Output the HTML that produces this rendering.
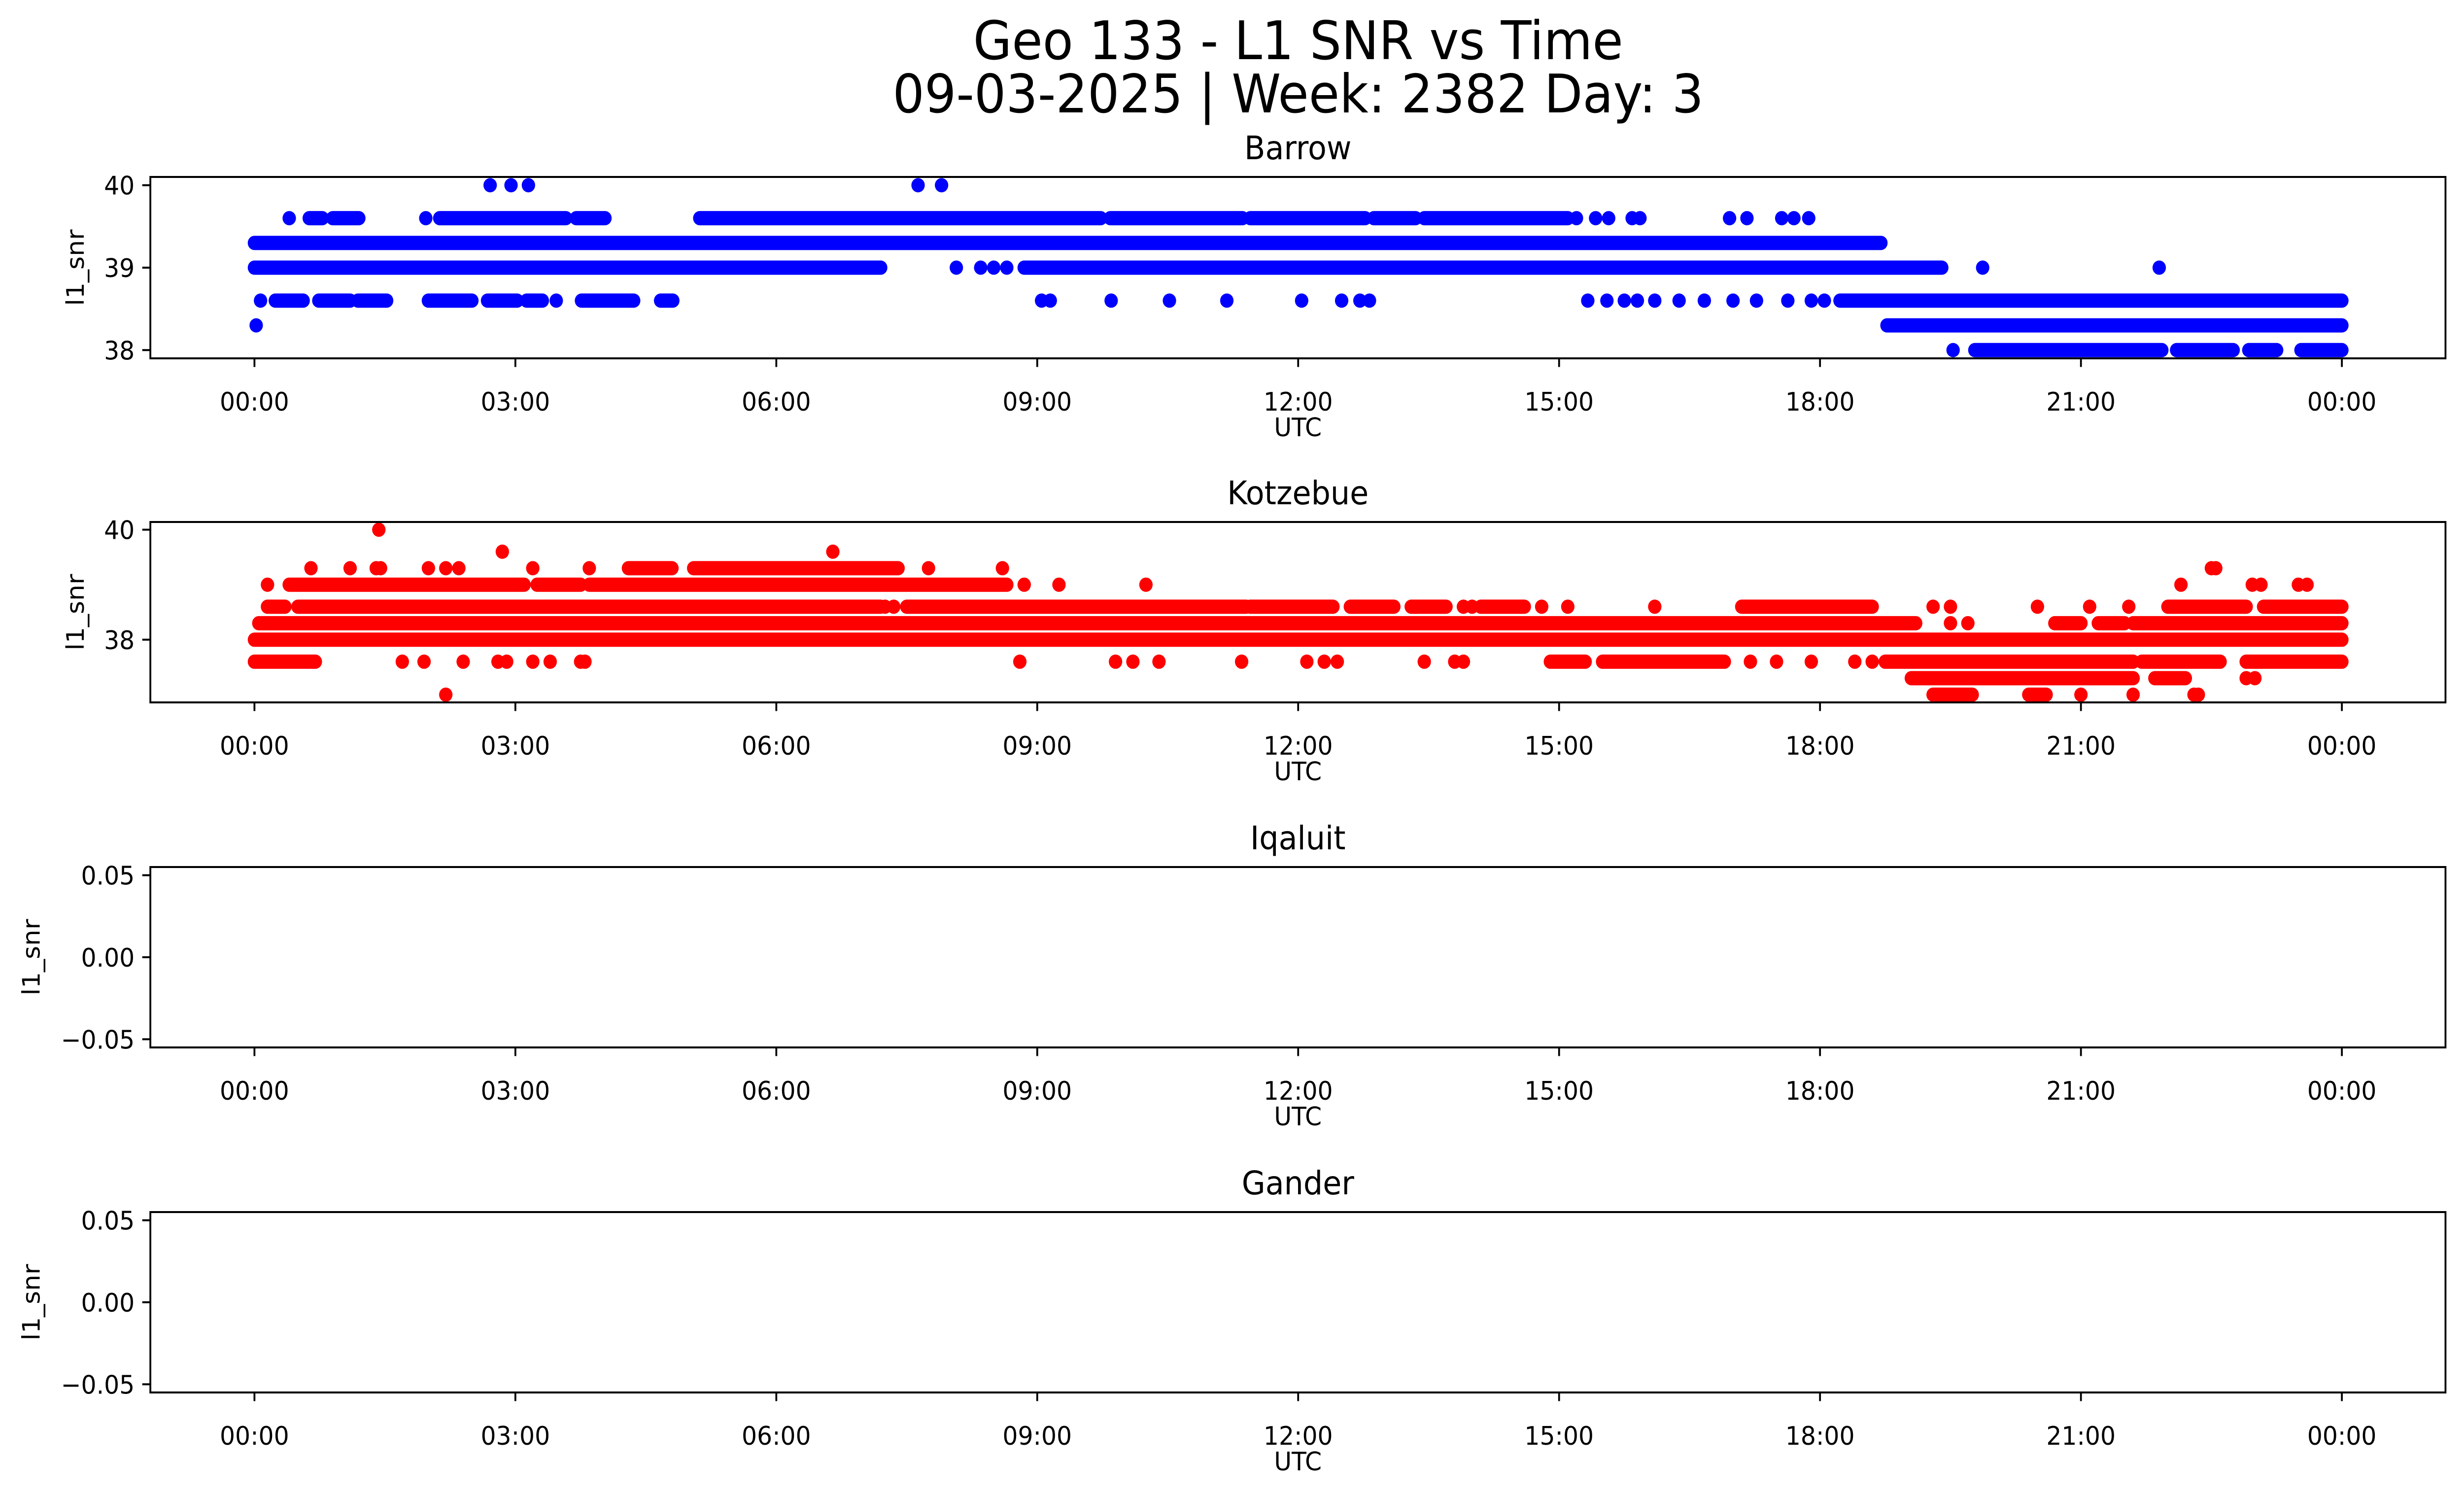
<!DOCTYPE html>
<html><head><meta charset="utf-8"><style>
html,body{margin:0;padding:0;background:#fff;overflow:hidden;width:100%;height:100%;}
svg{display:block;width:100vw;height:100vh;font-family:"DejaVu Sans","Liberation Sans",sans-serif;}
</style></head><body>
<svg id="fig" viewBox="0 0 5326 3033" preserveAspectRatio="none" xmlns="http://www.w3.org/2000/svg">
<rect width="5326" height="3033" fill="#fff"/>
<text x="2806" y="120" font-size="108" text-anchor="middle">Geo 133 - L1 SNR vs Time</text>
<text x="2806" y="228" font-size="108" text-anchor="middle">09-03-2025 | Week: 2382 Day: 3</text>
</svg>
<script>
const xTickHours = [0,3,6,9,12,15,18,21,24];
const xTickLabels = ["00:00","03:00","06:00","09:00","12:00","15:00","18:00","21:00","00:00"];
const stationNames = ["Barrow","Kotzebue","Iqaluit","Gander"];

const barrowTicks = [38,39,40];
const barrowSegments = [
[39.3,0,18.7],[39.0,0,7.2],[39.0,8.85,19.4],
[39.6,0.63,0.78],[39.6,0.9,1.2],[39.6,2.13,3.58],[39.6,3.7,4.03],[39.6,5.12,9.73],[39.6,9.84,11.36],[39.6,11.45,12.77],[39.6,12.87,13.35],[39.6,13.45,15.1],
[38.6,0.24,0.56],[38.6,0.74,1.1],[38.6,1.19,1.52],[38.6,2.0,2.5],[38.6,2.68,3.02],[38.6,3.13,3.31],[38.6,3.76,4.36],[38.6,4.67,4.81],[38.6,18.23,24.0],
[38.3,18.77,24.0],
[38.0,19.78,21.93],[38.0,22.1,22.75],[38.0,22.93,23.25],[38.0,23.53,24.0]
];
const barrowPoints = [
[0.02,38.3],[0.07,38.6],[8.07,39.0],[8.35,39.0],[8.5,39.0],[8.65,39.0],
[0.4,39.6],[1.97,39.6],[15.2,39.6],[15.42,39.6],[15.57,39.6],[15.84,39.6],[15.93,39.6],[16.96,39.6],[17.16,39.6],[17.56,39.6],[17.7,39.6],[17.87,39.6],
[2.71,40],[2.95,40],[3.15,40],[7.63,40],[7.9,40],
[3.47,38.6],[9.05,38.6],[9.15,38.6],[9.85,38.6],[10.52,38.6],[11.18,38.6],[12.04,38.6],[12.5,38.6],[12.71,38.6],[12.82,38.6],
[15.33,38.6],[15.55,38.6],[15.75,38.6],[15.9,38.6],[16.1,38.6],[16.38,38.6],[16.67,38.6],[17.0,38.6],[17.27,38.6],[17.63,38.6],[17.9,38.6],[18.05,38.6],
[19.53,38.0],[19.87,39.0],[21.9,39.0]
];

const kotzTicks = [38,40];
const kotzSegments = [
[38.0,0,24],
[38.3,0.05,19.1],[38.3,20.7,21.0],[38.3,21.2,21.5],[38.3,21.6,24],
[38.6,0.15,0.35],[38.6,0.5,7.2],[38.6,7.5,11.4],[38.6,11.45,12.4],[38.6,12.6,13.1],[38.6,13.3,13.7],[38.6,14.1,14.6],[38.6,17.1,18.6],[38.6,22.0,22.9],[38.6,23.1,24],
[39.0,0.4,3.1],[39.0,3.25,3.75],[39.0,3.85,8.65],
[39.3,4.3,4.8],[39.3,5.05,7.4],
[37.6,0,0.7],[37.6,14.9,15.3],[37.6,15.5,16.9],[37.6,18.75,21.6],[37.6,21.7,22.6],[37.6,22.9,24],
[37.3,19.05,21.6],[37.3,21.85,22.2],
[37.0,19.3,19.75],[37.0,20.4,20.6]
];
const kotzPoints = [
[7.25,38.6],[7.35,38.6],[13.9,38.6],[14.0,38.6],[14.8,38.6],[15.1,38.6],[16.1,38.6],[19.3,38.6],[19.5,38.6],[20.5,38.6],[21.1,38.6],[21.55,38.6],
[19.5,38.3],[19.7,38.3],
[0.15,39.0],[8.85,39.0],[9.25,39.0],[10.25,39.0],[22.15,39.0],[22.97,39.0],[23.07,39.0],[23.5,39.0],[23.6,39.0],
[0.65,39.3],[1.1,39.3],[1.4,39.3],[1.45,39.3],[2.0,39.3],[2.2,39.3],[2.35,39.3],[3.2,39.3],[3.85,39.3],[7.75,39.3],[8.6,39.3],[22.5,39.3],[22.55,39.3],
[2.85,39.6],[6.65,39.6],[1.43,40],
[1.7,37.6],[1.95,37.6],[2.4,37.6],[2.8,37.6],[2.9,37.6],[3.2,37.6],[3.4,37.6],[3.75,37.6],[3.8,37.6],[8.8,37.6],[9.9,37.6],[10.1,37.6],[10.4,37.6],[11.35,37.6],[12.1,37.6],[12.3,37.6],[12.45,37.6],[13.45,37.6],[13.8,37.6],[13.9,37.6],[17.2,37.6],[17.5,37.6],[17.9,37.6],[18.4,37.6],[18.6,37.6],
[22.9,37.3],[23.0,37.3],
[2.2,37.0],[21.0,37.0],[21.6,37.0],[22.3,37.0],[22.35,37.0]
];
const emptyTicks = [-0.05,0.0,0.05];
const emptyTickLabels = ["\u22120.05","0.00","0.05"];

const NS="http://www.w3.org/2000/svg";
const svg=document.getElementById('fig');
function mk(tag,attrs,parent){const e=document.createElementNS(NS,tag);for(const k in attrs)e.setAttribute(k,attrs[k]);(parent||svg).appendChild(e);return e;}
const L=325,R=5286,X0=550,PXH=188.0;
function xs(h){return X0+h*PXH;}

const panels=[
 {name:"Barrow",top:359,bot:727,ymin:37.9,ymax:40.1,ticks:barrowTicks,labels:barrowTicks.map(String),segs:barrowSegments,pts:barrowPoints,color:"#0000ff",ylx:163},
 {name:"Kotzebue",top:1059,bot:1425,ymin:36.86,ymax:40.14,ticks:kotzTicks,labels:kotzTicks.map(String),segs:kotzSegments,pts:kotzPoints,color:"#ff0000",ylx:163},
 {name:"Iqaluit",top:1759,bot:2125,ymin:-0.055,ymax:0.055,ticks:emptyTicks,labels:emptyTickLabels,segs:[],pts:[],color:"#0000ff",ylx:68},
 {name:"Gander",top:2459,bot:2825,ymin:-0.055,ymax:0.055,ticks:emptyTicks,labels:emptyTickLabels,segs:[],pts:[],color:"#0000ff",ylx:68}
];
panels.forEach((p,i)=>{
 const slug=p.name.toLowerCase();
 const g=mk('g',{});
 
 
 const ys=v=>p.bot-(v-p.ymin)/(p.ymax-p.ymin)*(p.bot-p.top);
 const cp=mk('clipPath',{id:'cp'+i},g);
 mk('rect',{x:L,y:p.top,width:R-L,height:p.bot-p.top},cp);
 const marks=mk('g',{'clip-path':'url(#cp'+i+')'},g);
 
 
 p.segs.forEach(s=>{
  const ln=mk('line',{x1:xs(s[1]),x2:xs(s[2]),y1:ys(s[0]),y2:ys(s[0]),stroke:p.color,'stroke-width':29,'stroke-linecap':'round'},marks);
  
  
 });
 p.pts.forEach(q=>{
  const c=mk('circle',{cx:xs(q[0]),cy:ys(q[1]),r:14.5,fill:p.color},marks);
  
  
 });
 const fr=mk('rect',{x:L,y:p.top,width:R-L,height:p.bot-p.top,fill:'none',stroke:'#000','stroke-width':4},g);
 
 
 xTickHours.forEach((h,j)=>{
  mk('line',{x1:xs(h),x2:xs(h),y1:p.bot,y2:p.bot+17.5,stroke:'#000','stroke-width':4},g);
  const t=mk('text',{x:xs(h),y:p.bot+106,'font-size':52,'text-anchor':'middle'},g);
  t.textContent=xTickLabels[j];
  
  
 });
 p.ticks.forEach((v,j)=>{
  mk('line',{x1:L,x2:L-17.5,y1:ys(v),y2:ys(v),stroke:'#000','stroke-width':4},g);
  const t=mk('text',{x:L-34,y:ys(v)+19,'font-size':52,'text-anchor':'end'},g);
  t.textContent=p.labels[j];
  
  
 });
 const xl=mk('text',{x:(L+R)/2,y:p.bot+158,'font-size':52,'text-anchor':'middle'},g);
 xl.textContent='UTC';
 
 
 const cy=(p.top+p.bot)/2;
 const yl=mk('text',{x:p.ylx+18,y:cy,'font-size':52,'text-anchor':'middle',transform:'rotate(-90 '+(p.ylx+18)+' '+cy+')'},g);
 yl.textContent='l1_snr';
 
 
 const tt=mk('text',{x:(L+R)/2,y:p.top-36,'font-size':66,'text-anchor':'middle'},g);
 tt.textContent=p.name;
 
 
});
</script>
</body></html>
